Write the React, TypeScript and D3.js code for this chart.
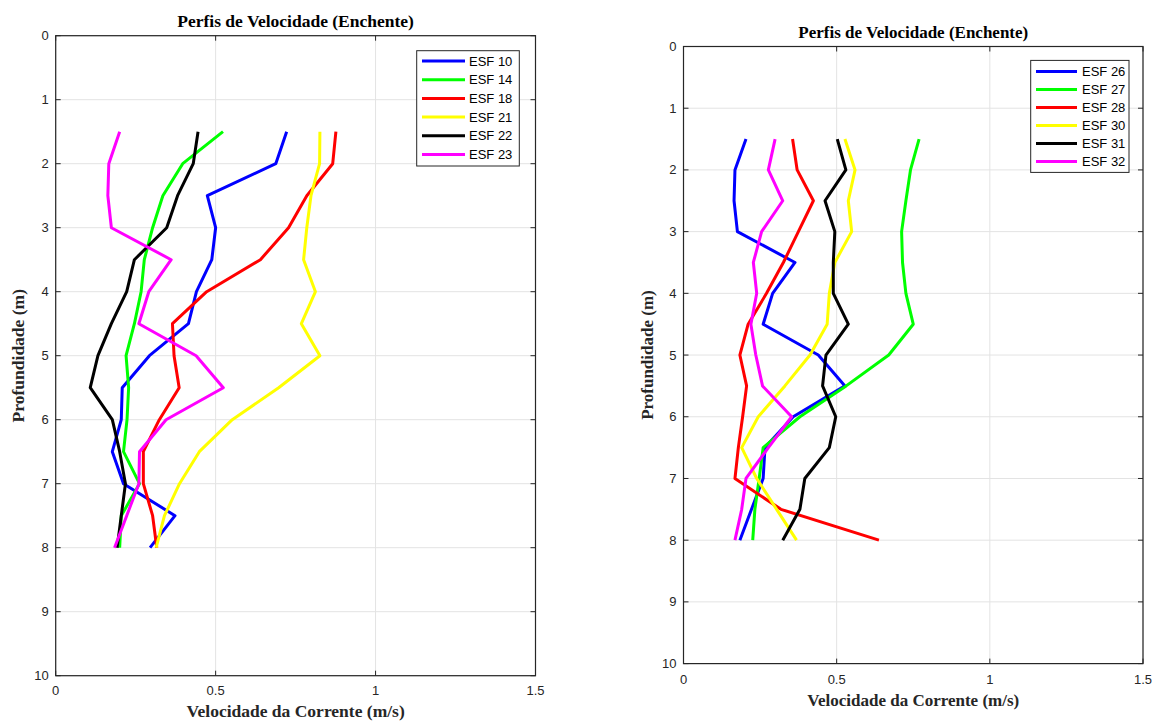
import React from "react";
import * as d3 from "d3";

const depths = [1.5, 2, 2.5, 3, 3.5, 4, 4.5, 5, 5.5, 6, 6.5, 7, 7.5, 8];

const leftNames = ["ESF 10", "ESF 14", "ESF 18", "ESF 21", "ESF 22", "ESF 23"];
const esf10 = [0.722, 0.688, 0.474, 0.5, 0.488, 0.44, 0.415, 0.293, 0.208, 0.205, 0.177, 0.212, 0.373, 0.295];
const esf14 = [0.523, 0.397, 0.335, 0.303, 0.277, 0.267, 0.246, 0.22, 0.228, 0.223, 0.212, 0.262, 0.205, 0.2];
const esf18 = [0.876, 0.866, 0.785, 0.728, 0.64, 0.472, 0.365, 0.37, 0.386, 0.324, 0.274, 0.274, 0.303, 0.316];
const esf21 = [0.826, 0.825, 0.798, 0.785, 0.775, 0.812, 0.768, 0.826, 0.697, 0.552, 0.449, 0.387, 0.34, 0.314];
const esf22 = [0.445, 0.43, 0.381, 0.347, 0.246, 0.222, 0.174, 0.132, 0.108, 0.177, 0.2, 0.218, 0.205, 0.192];
const esf23 = [0.2, 0.166, 0.163, 0.174, 0.361, 0.291, 0.26, 0.439, 0.524, 0.345, 0.262, 0.26, 0.222, 0.184];

const rightNames = ["ESF 26", "ESF 27", "ESF 28", "ESF 30", "ESF 31", "ESF 32"];
const esf26 = [0.204, 0.168, 0.165, 0.176, 0.364, 0.291, 0.26, 0.44, 0.527, 0.358, 0.266, 0.26, 0.222, 0.184];
const esf27 = [0.769, 0.741, 0.726, 0.712, 0.715, 0.726, 0.75, 0.67, 0.531, 0.38, 0.26, 0.247, 0.233, 0.226];
const esf28 = [0.356, 0.371, 0.424, 0.375, 0.326, 0.271, 0.211, 0.184, 0.206, 0.193, 0.179, 0.168, 0.318, 0.638];
const esf30 = [0.527, 0.56, 0.538, 0.549, 0.494, 0.476, 0.469, 0.413, 0.331, 0.244, 0.19, 0.239, 0.304, 0.369];
const esf31 = [0.502, 0.53, 0.462, 0.494, 0.489, 0.489, 0.538, 0.465, 0.454, 0.497, 0.476, 0.396, 0.38, 0.324];
const esf32 = [0.299, 0.277, 0.324, 0.255, 0.228, 0.239, 0.22, 0.236, 0.258, 0.353, 0.277, 0.204, 0.19, 0.168];

const colors = ["#0000ff", "#00ff00", "#ff0000", "#ffff00", "#000000", "#ff00ff"];
const xTicks = [0, 0.5, 1, 1.5];
const xTickLabels = ["0", "0.5", "1", "1.5"];
const yTicks = [0, 1, 2, 3, 4, 5, 6, 7, 8, 9, 10];

const title = "Perfis de Velocidade (Enchente)";
const xLabel = "Velocidade da Corrente (m/s)";
const yLabel = "Profundidade (m)";

type PanelProps = {
  x0: number; x1: number; y0: number; y1: number;
  names: string[]; series: number[][];
  titleY: number; xLabelY: number; yLabelX: number; tickLabelY: number;
  legend: { x0: number; x1: number; y0: number; y1: number; row0: number; rowStep: number; lx0: number; lx1: number; tx: number };
  fs: number;
};

function Panel(p: PanelProps) {
  const x = d3.scaleLinear().domain([0, 1.5]).range([p.x0, p.x1]);
  const y = d3.scaleLinear().domain([0, 10]).range([p.y0, p.y1]);
  const line = d3.line<[number, number]>().x((d) => x(d[0])).y((d) => y(d[1]));
  const axisColor = "#262626";
  const gridColor = "#e3e3e3";
  const tl = 5;
  const cx = (p.x0 + p.x1) / 2;
  const cy = (p.y0 + p.y1) / 2;
  return (
    <g>
      {xTicks.map((t) => (
        <line key={"gx" + t} x1={x(t)} x2={x(t)} y1={p.y0} y2={p.y1} stroke={gridColor} strokeWidth={1} />
      ))}
      {yTicks.map((t) => (
        <line key={"gy" + t} x1={p.x0} x2={p.x1} y1={y(t)} y2={y(t)} stroke={gridColor} strokeWidth={1} />
      ))}
      {p.series.map((s, i) => (
        <path
          key={"s" + i}
          d={line(s.map((v, j) => [v, depths[j]] as [number, number])) || ""}
          fill="none"
          stroke={colors[i]}
          strokeWidth={3}
          strokeLinejoin="round"
        />
      ))}
      {xTicks.map((t) => (
        <g key={"tx" + t}>
          <line x1={x(t)} x2={x(t)} y1={p.y1} y2={p.y1 - tl} stroke={axisColor} strokeWidth={1} />
          <line x1={x(t)} x2={x(t)} y1={p.y0} y2={p.y0 + tl} stroke={axisColor} strokeWidth={1} />
        </g>
      ))}
      {yTicks.map((t) => (
        <g key={"ty" + t}>
          <line x1={p.x0} x2={p.x0 + tl} y1={y(t)} y2={y(t)} stroke={axisColor} strokeWidth={1} />
          <line x1={p.x1} x2={p.x1 - tl} y1={y(t)} y2={y(t)} stroke={axisColor} strokeWidth={1} />
        </g>
      ))}
      <rect x={p.x0} y={p.y0} width={p.x1 - p.x0} height={p.y1 - p.y0} fill="none" stroke={axisColor} strokeWidth={1.2} />
      {xTicks.map((t, i) => (
        <text key={"lx" + t} x={x(t)} y={p.tickLabelY} textAnchor="middle" fontFamily="'Liberation Sans', Arial, sans-serif" fontSize={13} fill="#262626">
          {xTickLabels[i]}
        </text>
      ))}
      {yTicks.map((t) => (
        <text key={"ly" + t} x={p.x0 - 7} y={y(t) + 4.5} textAnchor="end" fontFamily="'Liberation Sans', Arial, sans-serif" fontSize={13} fill="#262626">
          {String(t)}
        </text>
      ))}
      <text x={cx} y={p.titleY} textAnchor="middle" fontFamily="'Liberation Serif', 'Times New Roman', serif" fontWeight="bold" fontSize={p.fs} fill="#000">
        {title}
      </text>
      <text x={cx} y={p.xLabelY} textAnchor="middle" fontFamily="'Liberation Serif', 'Times New Roman', serif" fontWeight="bold" fontSize={p.fs} fill="#262626">
        {xLabel}
      </text>
      <text
        transform={`translate(${p.yLabelX},${cy}) rotate(-90)`}
        textAnchor="middle"
        fontFamily="'Liberation Serif', 'Times New Roman', serif"
        fontWeight="bold"
        fontSize={p.fs}
        fill="#262626"
      >
        {yLabel}
      </text>
      <rect x={p.legend.x0} y={p.legend.y0} width={p.legend.x1 - p.legend.x0} height={p.legend.y1 - p.legend.y0} fill="#fff" stroke={axisColor} strokeWidth={1} />
      {p.names.map((n, i) => {
        const ry = p.legend.row0 + i * p.legend.rowStep;
        return (
          <g key={"lg" + i}>
            <line x1={p.legend.lx0} x2={p.legend.lx1} y1={ry} y2={ry} stroke={colors[i]} strokeWidth={3} />
            <text x={p.legend.tx} y={ry + 4.5} fontFamily="'Liberation Sans', Arial, sans-serif" fontSize={13} fill="#000" style={{ whiteSpace: "pre" }}>
              {n}
            </text>
          </g>
        );
      })}
    </g>
  );
}

export default function App() {
  return (
    <svg width={1152} height={722} style={{ position: "absolute", left: 0, top: 0, background: "#fff" }}>
      <rect x={0} y={0} width={1152} height={722} fill="#fff" />
      <Panel
        x0={55.7} x1={535.5} y0={35.7} y1={675.7}
        names={leftNames}
        series={[esf10, esf14, esf18, esf21, esf22, esf23]}
        titleY={26.5} xLabelY={717} yLabelX={24} tickLabelY={695}
        fs={17.5}
        legend={{ x0: 416.7, x1: 519.3, y0: 50.7, y1: 166, row0: 61, rowStep: 18.7, lx0: 422, lx1: 465, tx: 469 }}
      />
      <Panel
        x0={683.5} x1={1143} y0={46.5} y1={663.6}
        names={rightNames}
        series={[esf26, esf27, esf28, esf30, esf31, esf32]}
        titleY={38} xLabelY={706} yLabelX={653} tickLabelY={684}
        fs={17}
        legend={{ x0: 1030.7, x1: 1129, y0: 60.4, y1: 172.4, row0: 71.4, rowStep: 18, lx0: 1036, lx1: 1077, tx: 1082 }}
      />
    </svg>
  );
}
